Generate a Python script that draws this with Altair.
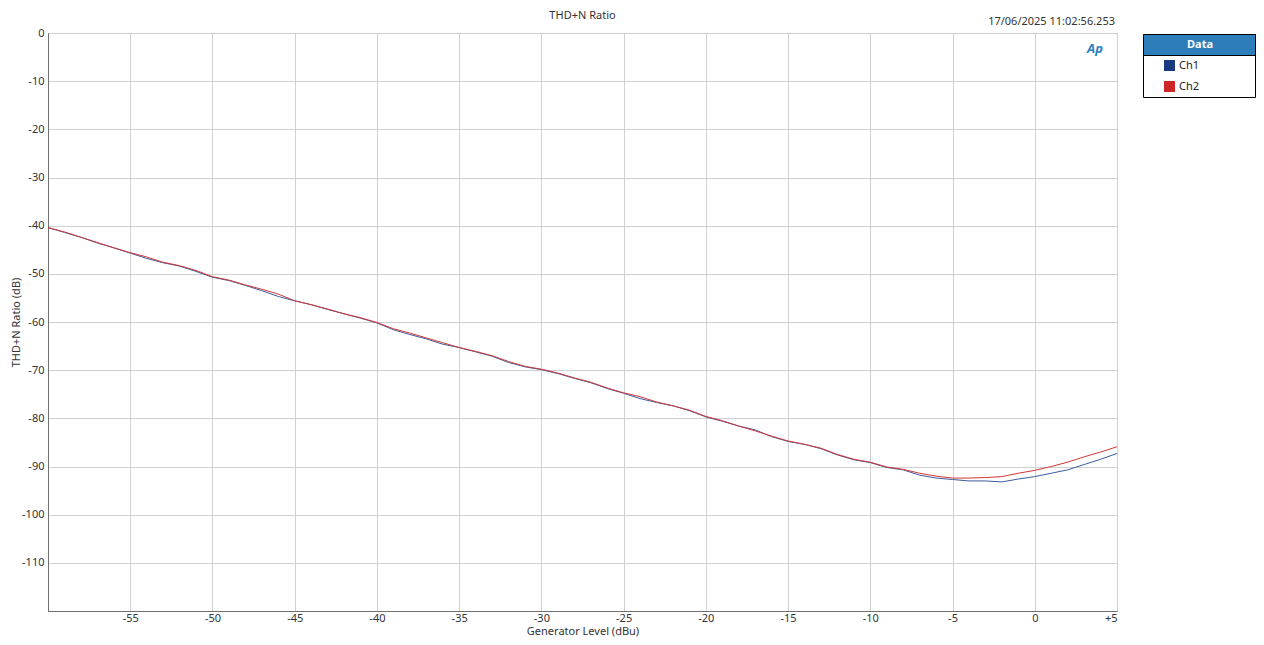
import altair as alt
import pandas as pd

# ---- data ----
gen_level = list(range(-60, 6))
ch1 = [-40.4, -41.4, -42.4, -43.6, -44.6, -45.7, -46.8, -47.7, -48.4, -49.5,
       -50.7, -51.4, -52.4, -53.5, -54.7, -55.6, -56.4, -57.4, -58.3, -59.2,
       -60.2, -61.6, -62.6, -63.5, -64.6, -65.3, -66.2, -67.1, -68.4, -69.3,
       -69.9, -70.7, -71.7, -72.6, -73.8, -74.8, -75.9, -76.7, -77.4, -78.4,
       -79.7, -80.6, -81.6, -82.4, -83.8, -84.8, -85.4, -86.3, -87.6, -88.6,
       -89.2, -90.2, -90.7, -91.8, -92.4, -92.7, -93.0, -93.0, -93.2, -92.6,
       -92.1, -91.4, -90.7, -89.6, -88.5, -87.3]
ch2 = [-40.4, -41.3, -42.4, -43.5, -44.6, -45.6, -46.5, -47.6, -48.3, -49.3,
       -50.6, -51.3, -52.3, -53.2, -54.2, -55.6, -56.4, -57.3, -58.3, -59.1,
       -60.1, -61.4, -62.3, -63.3, -64.3, -65.3, -66.1, -67.0, -68.2, -69.2,
       -69.8, -70.6, -71.6, -72.5, -73.7, -74.7, -75.5, -76.6, -77.4, -78.3,
       -79.6, -80.5, -81.6, -82.6, -83.7, -84.7, -85.4, -86.2, -87.5, -88.5,
       -89.1, -90.1, -90.6, -91.4, -92.0, -92.4, -92.4, -92.3, -92.1, -91.4,
       -90.8, -90.0, -89.1, -88.0, -87.0, -85.9]
series = ["Ch1", "Ch2"]
line_colors = ["#3b5c9e", "#d23636"]
swatch_colors = ["#1a3a80", "#cc2626"]
x_ticks = [-55, -50, -45, -40, -35, -30, -25, -20, -15, -10, -5, 0, 5]
y_ticks = [0, -10, -20, -30, -40, -50, -60, -70, -80, -90, -100, -110]
title_text = "THD+N Ratio"
timestamp = "17/06/2025 11:02:56.253"
legend_title = "Data"

df = pd.DataFrame({
    "level": gen_level * 2,
    "ratio": ch1 + ch2,
    "ch": ["Ch1"] * len(ch1) + ["Ch2"] * len(ch2),
})
legend_df = pd.DataFrame({"ch": series})
one = pd.DataFrame({"a": [0]})

W, H = 1069, 578
FONT = "Noto Sans"

x_enc = alt.X("level:Q", scale=alt.Scale(domain=[-60, 5], nice=False, zero=False),
              axis=alt.Axis(values=x_ticks, title="Generator Level (dBu)",
                            labelExpr="datum.value > 0 ? '+' + toString(datum.value) : toString(datum.value)",
                            labelPadding=1, titleY=20.5, titleBaseline="middle"))
y_enc = alt.Y("ratio:Q", scale=alt.Scale(domain=[-120, 0], nice=False, zero=False),
              axis=alt.Axis(values=y_ticks, title="THD+N Ratio (dB)", labelPadding=4,
                            labelExpr="toString(datum.value)",
                            titleX=-32, titleY=H / 2, titleAngle=-90,
                            titleBaseline="middle", titleAlign="center"))

lines = alt.Chart(df).mark_line(strokeWidth=1, clip=True).encode(
    x=x_enc, y=y_enc,
    color=alt.Color("ch:N", scale=alt.Scale(domain=series, range=line_colors), legend=None),
    order=alt.Order("level:Q"),
)

# legend box (entries positioned by a point scale over the series names)
leg_y = alt.Y("ch:N", scale=alt.Scale(type="point", domain=series, range=[32.5, 53.5], padding=0),
              axis=None)
header = alt.Chart(one).mark_rect(fill="#2d7dbb", stroke="#000", strokeWidth=1).encode(
    x=alt.value(1095.5), x2=alt.value(1207.5), y=alt.value(1.5), y2=alt.value(22.5))
frame = alt.Chart(one).mark_rect(fill="transparent", stroke="#000", strokeWidth=1).encode(
    x=alt.value(1095.5), x2=alt.value(1207.5), y=alt.value(1.5), y2=alt.value(64.5))
header_text = alt.Chart(one).mark_text(text=legend_title, font=FONT, fontSize=11, fontWeight="bold",
                                       color="white", align="center", baseline="middle").encode(
    x=alt.value(1152), y=alt.value(12))
leg_sw = alt.Chart(legend_df).mark_square(size=121, opacity=1).encode(
    x=alt.value(1121.5), y=leg_y,
    fill=alt.Fill("ch:N", scale=alt.Scale(domain=series, range=swatch_colors), legend=None),
)
leg_lab = alt.Chart(legend_df).mark_text(font=FONT, fontSize=11, color="#222",
                                         align="left", baseline="middle").encode(
    x=alt.value(1131), y=leg_y, text="ch:N")

title_mark = alt.Chart(one).mark_text(text=title_text, font=FONT, fontSize=11, color="#333",
                                      align="center", baseline="middle").encode(
    x=alt.value(W / 2), y=alt.value(-17))
stamp = alt.Chart(one).mark_text(text=timestamp, font=FONT, fontSize=11, color="#333",
                                 align="right", baseline="middle").encode(
    x=alt.value(1067), y=alt.value(-11))
logo = alt.Chart(one).mark_text(text="Ap", font=FONT, fontSize=13, fontWeight="bold",
                                fontStyle="italic", color="#2a7fc0",
                                align="center", baseline="middle").encode(
    x=alt.value(1047), y=alt.value(16))

chart = alt.layer(
    lines, header, frame, header_text, leg_sw, leg_lab, title_mark, stamp, logo
).resolve_scale(y="independent").properties(
    width=W, height=H,
    autosize=alt.AutoSizeParams(type="none"),
    padding={"left": 40, "top": 25, "right": 139, "bottom": 26},
).configure(font=FONT, background="white").configure_view(
    stroke="#707070", strokeWidth=1
).configure_axis(
    grid=True, gridColor="#d0d0d0", gridWidth=1, domainColor="#707070", ticks=False,
    labelFont=FONT, labelFontSize=11, labelColor="#333",
    titleFont=FONT, titleFontSize=11, titleFontWeight="normal", titleColor="#333",
)

chart.save("out.html", embed_options={"renderer": "svg", "actions": False})
